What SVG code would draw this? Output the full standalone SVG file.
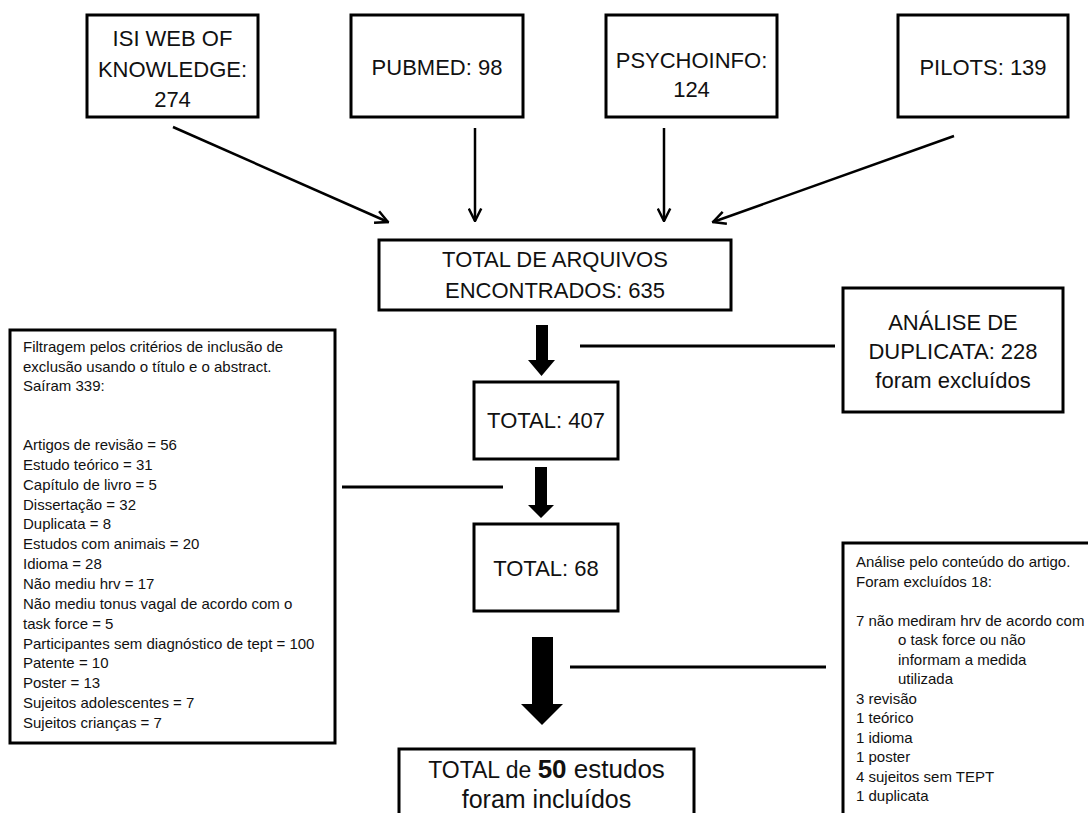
<svg xmlns="http://www.w3.org/2000/svg" width="1088" height="813" viewBox="0 0 1088 813">
<style>
.box{fill:#fff;stroke:#000;stroke-width:3}
.big{font-family:"Liberation Sans",Arial,sans-serif;font-size:22px;fill:#111;text-anchor:middle}
.sm{font-family:"Liberation Sans",Arial,sans-serif;font-size:15px;fill:#111}
.thin{fill:none;stroke:#000;stroke-width:2.5;marker-end:url(#open)}
.line{fill:none;stroke:#000;stroke-width:3}
.fat{fill:#000;stroke:none}
</style>
<defs>
<marker id="open" viewBox="0 0 12 12" refX="11" refY="6" markerWidth="15" markerHeight="15" markerUnits="userSpaceOnUse" orient="auto">
<path d="M1,1 L11,6 L1,11" fill="none" stroke="#000" stroke-width="2"/>
</marker>
</defs>
<rect width="1088" height="813" fill="#fff"/>
<g id="connectors">
<line class="thin" x1="173" y1="127" x2="388" y2="222"/>
<line class="thin" x1="475" y1="128" x2="475" y2="221"/>
<line class="thin" x1="664" y1="128" x2="664" y2="221"/>
<line class="thin" x1="954" y1="136" x2="713" y2="222"/>
<polygon class="fat" points="536,325 548,325 548,360 555,360 541.5,376 528,360 536,360"/>
<polygon class="fat" points="535,467 547,467 547,505 554,505 541,518 528,505 535,505"/>
<polygon class="fat" points="532,637 553,637 553,704 563,704 542,725 521,704 532,704"/>
<line class="line" x1="580" y1="346" x2="835" y2="346"/>
<line class="line" x1="342" y1="487" x2="503" y2="487"/>
<line class="line" x1="570" y1="667" x2="826" y2="667"/>
</g>
<g id="isi">
<rect class="box" x="87" y="15" width="171" height="102"/>
<text class="big" x="172.5" y="46">ISI WEB OF</text>
<text class="big" x="172.5" y="77">KNOWLEDGE:</text>
<text class="big" x="172.5" y="107">274</text>
</g>
<g id="pubmed">
<rect class="box" x="351" y="15" width="172" height="102"/>
<text class="big" x="437" y="75">PUBMED: 98</text>
</g>
<g id="psychoinfo">
<rect class="box" x="606" y="15" width="171" height="102"/>
<text class="big" x="691.5" y="68">PSYCHOINFO:</text>
<text class="big" x="691.5" y="97">124</text>
</g>
<g id="pilots">
<rect class="box" x="898" y="15" width="170" height="102"/>
<text class="big" x="983" y="75">PILOTS: 139</text>
</g>
<g id="total635">
<rect class="box" x="379" y="240" width="352" height="70"/>
<text class="big" x="555" y="267">TOTAL DE ARQUIVOS</text>
<text class="big" x="555" y="298">ENCONTRADOS: 635</text>
</g>
<g id="duplicata">
<rect class="box" x="843" y="288" width="220" height="124"/>
<text class="big" x="953" y="330">ANÁLISE DE</text>
<text class="big" x="953" y="359">DUPLICATA: 228</text>
<text class="big" x="953" y="388">foram excluídos</text>
</g>
<g id="total407">
<rect class="box" x="474" y="382" width="144" height="77"/>
<text class="big" x="546" y="428">TOTAL: 407</text>
</g>
<g id="total68">
<rect class="box" x="474" y="524" width="144" height="87"/>
<text class="big" x="546" y="576">TOTAL: 68</text>
</g>
<g id="filtragem">
<rect class="box" x="10" y="330" width="325" height="413"/>
<text class="sm" x="23" y="352">Filtragem pelos critérios de inclusão de</text>
<text class="sm" x="23" y="371.5">exclusão usando o título e o abstract.</text>
<text class="sm" x="23" y="391">Saíram 339:</text>
<text class="sm" x="23" y="450">Artigos de revisão = 56</text>
<text class="sm" x="23" y="469.9">Estudo teórico = 31</text>
<text class="sm" x="23" y="489.7">Capítulo de livro = 5</text>
<text class="sm" x="23" y="509.6">Dissertação = 32</text>
<text class="sm" x="23" y="529.4">Duplicata = 8</text>
<text class="sm" x="23" y="549.3">Estudos com animais = 20</text>
<text class="sm" x="23" y="569.1">Idioma = 28</text>
<text class="sm" x="23" y="589">Não mediu hrv = 17</text>
<text class="sm" x="23" y="608.8">Não mediu tonus vagal de acordo com o</text>
<text class="sm" x="23" y="628.7">task force = 5</text>
<text class="sm" x="23" y="648.5">Participantes sem diagnóstico de tept = 100</text>
<text class="sm" x="23" y="668.4">Patente = 10</text>
<text class="sm" x="23" y="688.2">Poster = 13</text>
<text class="sm" x="23" y="708.1">Sujeitos adolescentes = 7</text>
<text class="sm" x="23" y="728">Sujeitos crianças = 7</text>
</g>
<g id="conteudo">
<rect class="box" x="843" y="543" width="260" height="290"/>
<text class="sm" x="856" y="567">Análise pelo conteúdo do artigo.</text>
<text class="sm" x="856" y="586.5">Foram excluídos 18:</text>
<text class="sm" x="856" y="625.5">7 não mediram hrv de acordo com</text>
<text class="sm" x="898" y="645">o task force ou não</text>
<text class="sm" x="898" y="664.5">informam a medida</text>
<text class="sm" x="898" y="684">utilizada</text>
<text class="sm" x="856" y="703.5">3 revisão</text>
<text class="sm" x="856" y="723">1 teórico</text>
<text class="sm" x="856" y="742.5">1 idioma</text>
<text class="sm" x="856" y="762">1 poster</text>
<text class="sm" x="856" y="781.5">4 sujeitos sem TEPT</text>
<text class="sm" x="856" y="801">1 duplicata</text>
</g>
<g id="final">
<rect class="box" x="399" y="749" width="295" height="80"/>
<text class="big" x="546.5" y="778"><tspan style="font-size:23px">TOTAL de </tspan><tspan style="font-size:26px;font-weight:bold">50</tspan><tspan style="font-size:26px"> estudos</tspan></text>
<text class="big" x="546.5" y="808" style="font-size:25px">foram incluídos</text>
</g>
</svg>
